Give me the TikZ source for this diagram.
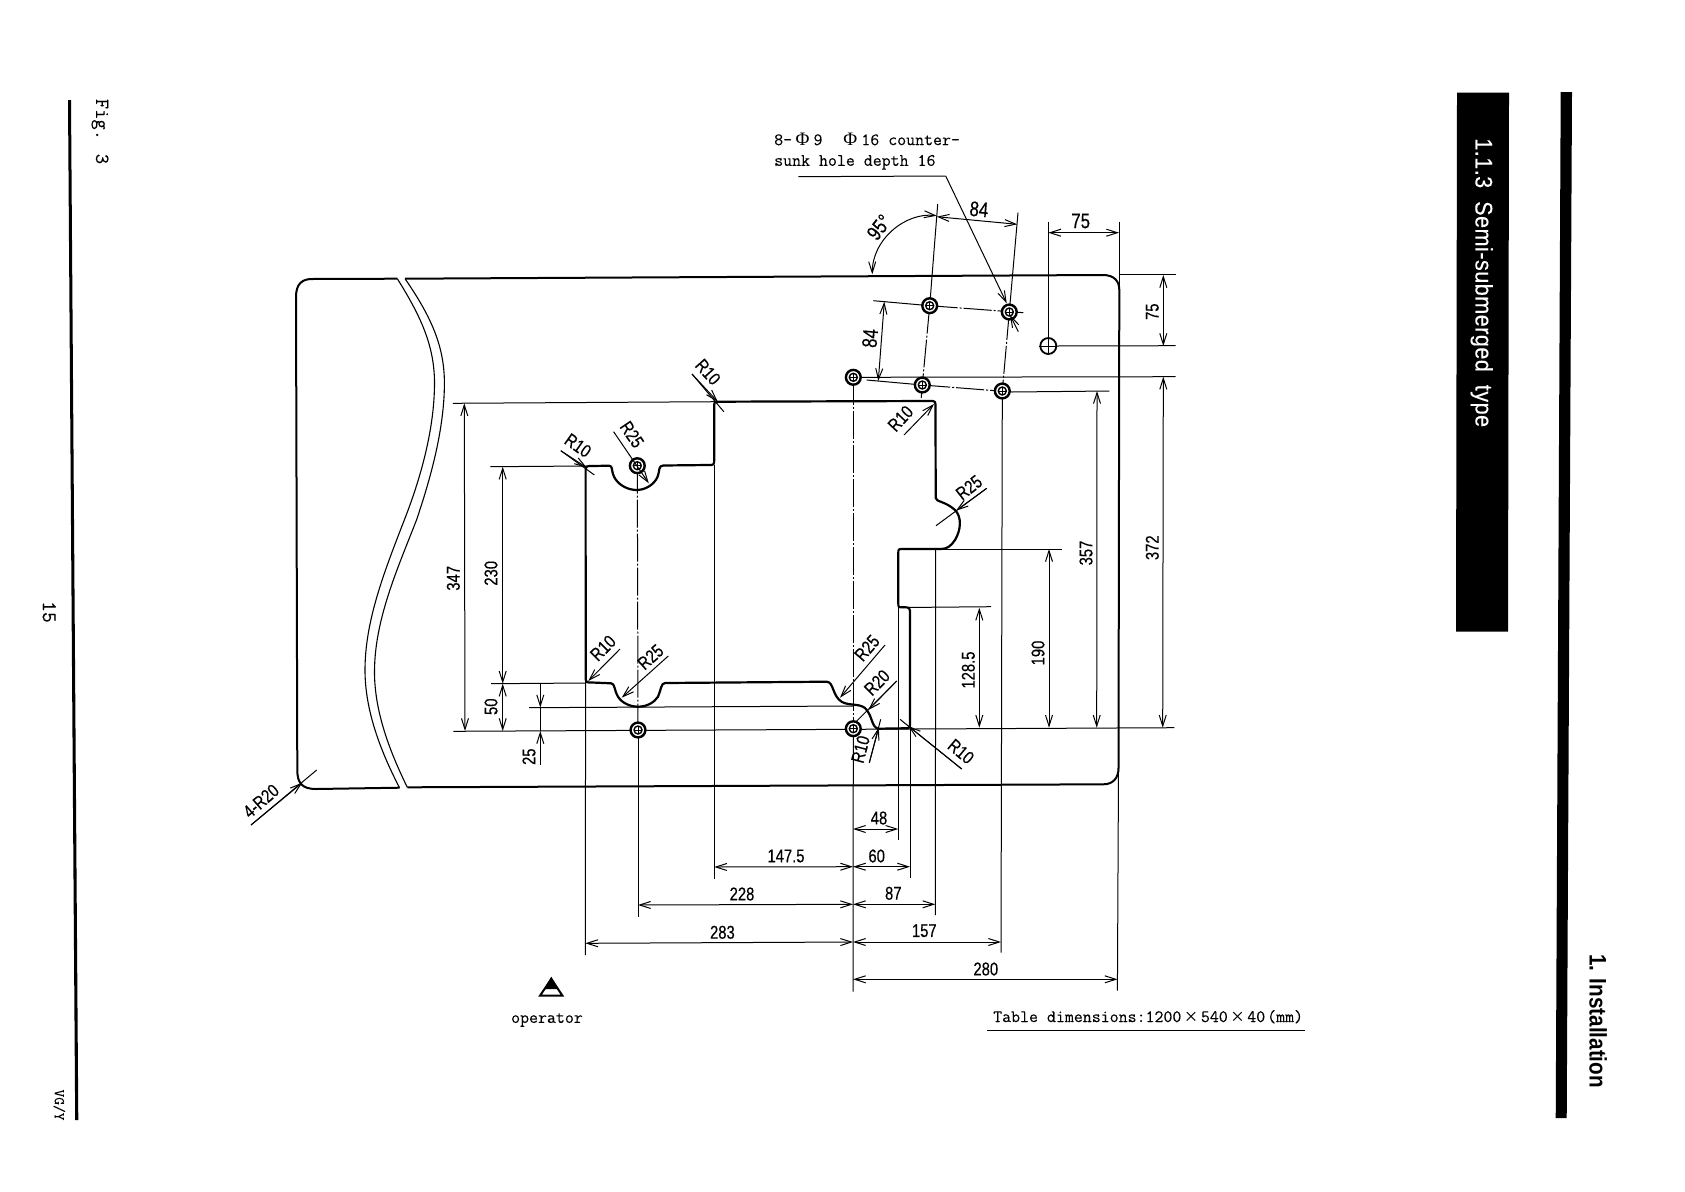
\documentclass[tikz,border=0pt]{standalone}
\usepackage{fontspec}
\usetikzlibrary{arrows.meta,calc}
\newfontfamily\dimf[FakeStretch=0.8,FakeBold=0.35]{Liberation Sans}
\newfontfamily\secf[FakeStretch=0.9,FakeBold=0.25,LetterSpace=2]{Liberation Sans}
\newfontfamily\chapf[FakeStretch=0.86]{Liberation Sans}
\newfontfamily\monof[FakeBold=0.15]{Latin Modern Mono}
\newfontfamily\phif{Liberation Serif}
\newcommand{\phisym}{{\phif\fontsize{19}{19}\selectfont Φ}}
\newcommand{\timessym}{\makebox[19.5pt]{\raisebox{-2pt}{\phif\fontsize{23}{17}\selectfont ×}}}
\tikzset{
  outline/.style={line width=2.2pt,line join=round},
  tableline/.style={line width=2pt,line join=round},
  thinline/.style={line width=1pt},
  wave/.style={line width=1.1pt},
  centerline/.style={line width=1pt,dash pattern=on 28pt off 2pt on 2pt off 2pt},
  dimline/.style={line width=1pt,{Straight Barb[length=11pt,width=7pt]}-{Straight Barb[length=11pt,width=7pt]}},
  leader/.style={line width=1pt,-{Straight Barb[length=11pt,width=7pt]}},
  dimlabel/.style={font=\dimf\fontsize{18.5}{18.5}\selectfont,inner sep=0pt},
  biglabel/.style={font=\dimf\fontsize{21}{21}\selectfont,inner sep=0pt},
  monolabel/.style={font=\monof\fontsize{17.4}{17.4}\selectfont,inner sep=0pt},
  blackbar/.style={fill=black,draw=none}
}
\newcommand{\holemark}[2]{%
  \coordinate (#1) at (#2);
  \fill[white] (#1) circle (8pt);
  \draw[line width=2.4pt] (#1) circle (7.4pt);
  \draw[line width=1.4pt] (#1) circle (4pt);
  \draw[line width=0.6pt] ($(#1)+(-3.8,0)$) -- ($(#1)+(3.8,0)$) ($(#1)+(0,-3.8)$) -- ($(#1)+(0,3.8)$);
}
\begin{document}
\begin{tikzpicture}[x=1pt,y=-1pt]
\useasboundingbox (0,0) rectangle (1685,1191);

% page furniture
\fill[blackbar] (1457,92.7) -- (1509,92.7) -- (1508,631.6) -- (1456,631.6) -- cycle;
\node[rotate=-90,text=white,font=\secf\fontsize{24}{24}\selectfont,inner sep=0pt] (sectitle) at (1481.7,282.7) {1.1.3\ \ Semi-submerged\ \ type};
\fill[blackbar] (1560.7,92) -- (1572,92) -- (1566.7,1118) -- (1555.7,1118) -- cycle;
\node[rotate=-90,font=\chapf\bfseries\fontsize{24}{24}\selectfont,inner sep=0pt] (chapter) at (1598.3,1021) {1. Installation};
\fill[blackbar] (68,100) -- (71,100) -- (78.3,1120) -- (75.2,1120) -- cycle;
\node[rotate=-90,font=\monof\fontsize{20}{20}\selectfont,inner sep=0pt] (figlabel) at (100,131.5) {Fig. 3};
\node[rotate=-90,font=\monof\fontsize{21}{21}\selectfont,inner sep=0pt] (pagenum) at (49.3,612) {15};
\node[rotate=-90,font=\monof\fontsize{15}{15}\selectfont,inner sep=0pt] (vgy) at (59.3,1105) {VG/Y};

% table outline
\draw[tableline] (399.5,787.7) -- (316,789) .. controls (302,789) and (297.3,783) .. (297.3,770)
  -- (296,297) .. controls (296,284) and (302,279) .. (312,279) -- (397.3,278.7);
\draw[tableline] (405,278.7) -- (1103,275) .. controls (1114,275) and (1119.3,281) .. (1119.3,290)
  -- (1118.5,768) .. controls (1118.5,778) and (1113,784.3) .. (1103.3,784.3) -- (407.3,787.3);
\draw[wave] (397.3,278.7) .. controls (420,315) and (434.5,345) .. (434.5,383)
  .. controls (434.5,430) and (420,480) .. (404.3,520)
  .. controls (385,570) and (365,620) .. (365,670)
  .. controls (365,710) and (380,750) .. (399.5,787.7);
\draw[wave] (405,278.7) .. controls (430,315) and (444.4,345) .. (444.4,383)
  .. controls (444.4,430) and (430,480) .. (416.5,520)
  .. controls (397,570) and (374.5,620) .. (374.5,672)
  .. controls (374.5,712) and (390,752) .. (407.3,787.3);

% extension lines, drawn under the cut-out
\draw[thinline] (452.8,403.3) -- (718,401.7);
\draw[thinline] (490.3,466.7) -- (587,466);
\draw[thinline] (491,683.7) -- (586,683);
\draw[thinline] (529,707.7) -- (853,706);
\draw[thinline] (453.3,731.3) -- (1174.3,727.7);
\draw[thinline] (585.6,680) -- (585.3,955);
\draw[thinline] (638,730) -- (638,916.7);
\draw[centerline] (637.3,465.7) -- (638,730);
\draw[thinline] (714.2,465) -- (714.2,879);
\draw[thinline] (853.3,728.7) -- (853,991.7);
\draw[centerline] (853.3,377.3) -- (853.3,728.7);
\draw[thinline] (898.3,603) -- (898.3,840);
\draw[thinline] (910,720) -- (910,878);
\draw[thinline] (935.7,549) -- (935.3,915);
\draw[thinline] (1002.3,391) -- (1001,952.7);
\draw[thinline] (1119.3,221.7) -- (1119.3,290);
\draw[thinline] (1118.5,768) -- (1117.4,990.7);
\draw[thinline] (1048.3,221.7) -- (1048.3,346);
\draw[thinline] (1119,274.7) -- (1175.7,274.7);
\draw[thinline] (1056.7,346) -- (1175.7,345.7);
\draw[thinline] (861.7,377.3) -- (1175.7,376.7);
\draw[thinline] (1012,392) -- (1109.3,391);
\draw[thinline] (943,549) -- (1061.7,549);
\draw[thinline] (903,607.5) -- (991,606.7);

% skewed hole grid
\draw[thinline] (937.7,204) -- (929.7,305.7);
\draw[centerline] (929.7,305.7) -- (922.3,385);
\draw[thinline] (922.3,385) -- (921.2,398);
\draw[thinline] (1018,212.7) -- (1009.3,312);
\draw[centerline] (1009.3,312) -- (1002.3,391);
\draw[thinline] (873.3,300.7) -- (929.7,305.7);
\draw[centerline] (929.7,305.7) -- (1023.3,312.7);
\draw[thinline] (866.7,380) -- (922.3,385);
\draw[centerline] (922.3,385) -- (1012,392);

% cut-out
\draw[outline] (718.8,401.7) -- (930,401) .. controls (935.5,401) .. (935.5,408)
  -- (935.7,498) .. controls (936,502) and (945,501) .. (955,510)
  .. controls (962,517) and (961,530) .. (955,540)
  .. controls (951,546) and (947,549) .. (941,549) -- (903,549)
  .. controls (898.3,549) .. (898.3,553.5) -- (898.3,603)
  .. controls (898.3,607.3) .. (903,607.3) .. controls (910,607.3) .. (910,615)
  -- (910,721.7) .. controls (910,728.3) .. (903.3,728.3) -- (878.3,728.7)
  .. controls (871,727) and (873,716) .. (865,708)
  .. controls (858,703) and (850,706) .. (842,702)
  .. controls (832,696) and (834,682) .. (826.7,681.7) -- (665,683)
  .. controls (661,683) and (661,690) .. (658,696.7)
  .. controls (654,703) and (646,706.7) .. (638.3,706.7)
  .. controls (630,706.7) and (622,703) .. (618,696.7)
  .. controls (614,690) and (615,683.3) .. (611,683.3) -- (592,682.5)
  .. controls (585.7,682.5) .. (585.7,676) -- (585.6,473)
  .. controls (585.6,466) .. (592,466) -- (609,465.7)
  .. controls (613,465.7) and (611,470) .. (614,476.7)
  .. controls (618,485) and (628,490) .. (636.5,490)
  .. controls (645,490) and (654,485) .. (657.6,476.7)
  .. controls (660,471) and (658,465.5) .. (663.3,465.5) -- (708,465)
  .. controls (714.2,465) .. (714.2,459) -- (714.2,408)
  .. controls (714.2,401.7) .. (718.8,401.7) -- cycle;

% holes
\holemark{h1}{929.7,305.7}
\holemark{h2}{1009.3,312}
\holemark{h3}{922.3,385}
\holemark{h4}{1002.3,391}
\holemark{h5}{853.3,377.3}
\holemark{h6}{637.3,465.7}
\holemark{h7}{638,730}
\holemark{h8}{853.3,728.7}
\coordinate (h9) at (1048.3,346);
\draw[line width=1.8pt] (h9) circle (8pt);
\draw[line width=1pt] ($(h9)+(-9,0)$) -- ($(h9)+(9,0)$) ($(h9)+(0,-8)$) -- ($(h9)+(0,8)$);

% dimensions
\draw[dimline] (1163.3,275) -- (1163.3,346);
\node[dimlabel,rotate=90] (d75r) at (1152.3,311.7) {75};
\draw[dimline] (1163.3,376.7) -- (1162.7,727.7);
\node[dimlabel,rotate=90] (d372) at (1152.3,547.7) {372};
\draw[dimline] (1097,391) -- (1096.7,727.7);
\node[dimlabel,rotate=90] (d357) at (1086,553) {357};
\draw[dimline] (1049,549) -- (1049,727.7);
\node[dimlabel,rotate=90] (d190) at (1038,653) {190};
\draw[dimline] (979.3,607.7) -- (979.3,727.7);
\node[dimlabel,rotate=90] (d1285) at (968.3,670) {128.5};
\draw[dimline] (464.3,403.3) -- (465,731);
\node[dimlabel,rotate=90] (d347) at (453.3,578.3) {347};
\draw[dimline] (502.7,466.7) -- (502.7,683.7);
\node[dimlabel,rotate=90] (d230) at (491,573.3) {230};
\draw[dimline] (502.7,683.7) -- (502.7,731);
\node[dimlabel,rotate=90] (d50) at (491,706.7) {50};
\draw[leader] (540.3,683.7) -- (540.3,707.5);
\draw[leader] (540.3,765) -- (540.3,731);
\draw[thinline] (540.3,707.5) -- (540.3,731);
\node[dimlabel,rotate=90] (d25) at (529,756.7) {25};
\draw[dimline] (853,829) -- (898.3,829);
\node[dimlabel] (d48) at (879,818) {48};
\draw[dimline] (853,866.7) -- (910,866.7);
\node[dimlabel] (d60) at (876.7,856) {60};
\draw[dimline] (714.2,867) -- (853,866.7);
\node[dimlabel] (d1475) at (786,856) {147.5};
\draw[dimline] (853,904.3) -- (935.3,904.3);
\node[dimlabel] (d87) at (893.3,893.3) {87};
\draw[dimline] (638,905) -- (853,904.3);
\node[dimlabel] (d228) at (742,894) {228};
\draw[dimline] (585.3,943.3) -- (853,942);
\node[dimlabel] (d283) at (722.4,932.3) {283};
\draw[dimline] (853,942) -- (1001,942);
\node[dimlabel] (d157) at (924.3,930.7) {157};
\draw[dimline] (853,979.3) -- (1117.5,979.3);
\node[dimlabel] (d280) at (985.8,969) {280};
\draw[dimline] (1048.3,232.7) -- (1119,232.7);
\node[biglabel] (d75t) at (1080.7,221) {75};
\draw[dimline] (936.7,216.7) -- (1017.3,224.3);
\node[biglabel,rotate=-5] (d84t) at (979,209.3) {84};
\draw[dimline] (884.3,301.7) -- (878.3,381);
\node[biglabel,rotate=85] (d84l) at (870,338.3) {84};
\draw[dimline] (936.7,215.7) .. controls (905,212) and (872,240) .. (872.3,274.3);
\node[biglabel,rotate=52] (d95) at (879,227.3) {95°};

% radius leaders
\draw[thinline] (692,374) -- (723.8,411.7);
\draw[leader] (692,374) -- (717.7,401.7);
\node[dimlabel,rotate=-48] (r1) at (708,372) {R10};
\draw[thinline] (560.8,450.7) -- (594.4,475);
\draw[leader] (560.8,450.7) -- (586.8,467.7);
\node[dimlabel,rotate=-35] (r2) at (578,445.5) {R10};
\draw[leader] (613.6,431.7) -- (648.8,483.3);
\node[dimlabel,rotate=-56] (r3) at (632,434.5) {R25};
\draw[leader] (904,435) -- (934,404);
\node[dimlabel,rotate=47] (r4) at (900.5,418.5) {R10};
\draw[thinline] (986.7,488.3) -- (936,525.7);
\draw[leader] (986.7,488.3) -- (956,510.7);
\node[dimlabel,rotate=38] (r5) at (969,487.5) {R25};
\draw[leader] (620,649) -- (588.3,681);
\node[dimlabel,rotate=45] (r6) at (603,648) {R10};
\draw[leader] (668.3,656) -- (621.7,697.7);
\node[dimlabel,rotate=42] (r7) at (650.5,657) {R25};
\draw[leader] (885,645) -- (840,697.7);
\node[dimlabel,rotate=49] (r8) at (867,648) {R25};
\draw[thinline] (896.7,681) -- (856.7,721);
\draw[leader] (896.7,681) -- (868.3,710);
\node[dimlabel,rotate=45] (r9) at (877,682.5) {R20};
\draw[thinline] (869.3,762.7) -- (880.7,719.3);
\draw[leader] (869.3,762.7) -- (878.8,727.5);
\node[dimlabel,rotate=75] (r10) at (860.5,749.3) {R10};
\draw[thinline] (961.7,769) -- (900,719.3);
\draw[leader] (961.7,769) -- (908.3,726);
\node[dimlabel,rotate=-40] (r11) at (961,751.5) {R10};
\draw[thinline] (251,825) -- (316.7,770);
\draw[leader] (251,825) -- (302.3,782.7);
\node[dimlabel,rotate=41] (r12) at (261,801) {4-R20};

% hole note
\node[monolabel,anchor=west] (note1) at (774,139) {8-\hspace{3.5pt}\phisym\hspace{4pt}9\hspace{21pt}\phisym\hspace{4pt}16\hspace{9pt}counter-};
\node[monolabel,anchor=west] (note2) at (774,162.3) {sunk hole depth 16};
\coordinate (noteend) at (798.3,176.7);
\coordinate (notebend) at (945.7,176);
\draw[thinline] (noteend) -- (notebend);
\draw[leader] (notebend) -- (1006.7,303.3);
\draw[leader] (1018.3,331.7) -- (1010,315);

% operator
\draw[line width=2pt,line join=miter] (551.3,979) -- (562.5,995.7) -- (540,995.7) -- cycle;
\fill[black] (551.3,976.7) -- (558.5,989) -- (544,989) -- cycle;
\node[monolabel] (operator) at (547,1020) {operator};

% table dimensions
\node[monolabel,anchor=west] (tabledim) at (993,1017) {Table dimensions:1200\timessym 540\timessym 40\hspace{2pt}(mm)};
\coordinate (tdl) at (987.4,1030.7);
\coordinate (tdr) at (1304.5,1030.7);
\draw[line width=1.3pt] (tdl) -- (tdr);
\end{tikzpicture}
\end{document}
